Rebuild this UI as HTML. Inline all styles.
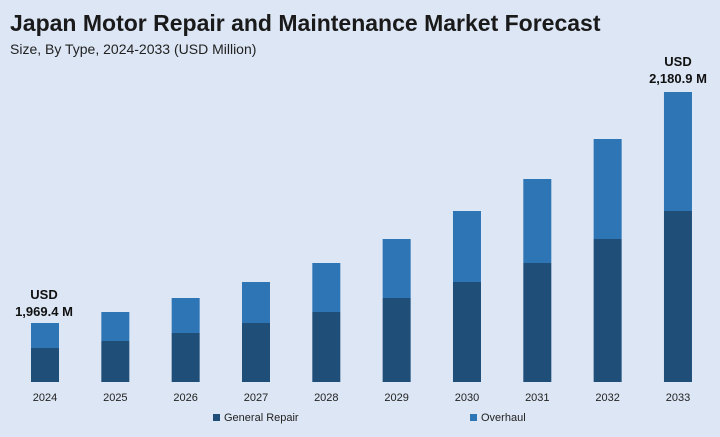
<!DOCTYPE html>
<html><head><meta charset="utf-8"><style>
body{margin:0;width:720px;height:432px;background:#dce6f4;font-family:"Liberation Sans",sans-serif;overflow:hidden}
</style></head><body>
<svg width="720" height="432">
<rect width="720" height="432" fill="#dce6f4"/>
<text x="10" y="31" font-size="23" font-weight="bold" fill="#1a1a1a">Japan Motor Repair and Maintenance Market Forecast</text>
<text x="10" y="54" font-size="14" fill="#222">Size, By Type, 2024-2033 (USD Million)</text>
<g id="bars"></g>
<g id="xlabels"></g>
<text x="44" y="299" font-size="13" font-weight="bold" text-anchor="middle" fill="#111">USD</text>
<text x="44" y="316" font-size="13" font-weight="bold" text-anchor="middle" fill="#111">1,969.4 M</text>
<text x="678" y="66" font-size="13" font-weight="bold" text-anchor="middle" fill="#111">USD</text>
<text x="678" y="83" font-size="13" font-weight="bold" text-anchor="middle" fill="#111">2,180.9 M</text>
<rect x="213" y="414" width="7" height="7" fill="#1f4e79"/>
<text x="224" y="421" font-size="11" fill="#222">General Repair</text>
<rect x="470" y="414" width="7" height="7" fill="#2e75b6"/>
<text x="481" y="421" font-size="11" fill="#222">Overhaul</text>
</svg>
<script>
const categories=["2024","2025","2026","2027","2028","2029","2030","2031","2032","2033"];
const generalRepair=[34,41,49,59,70,84,100,119,143,171];
const overhaul=[25,29,35,41,49,59,71,84,100,119];
const NS="http://www.w3.org/2000/svg";
const baseY=382, pxPerUnit=1.0, x0=31, step=70.33, bw=28;
function xPos(i){return x0+i*step;}
function yPos(v){return baseY-v*pxPerUnit;}
const g=document.getElementById('bars'), xl=document.getElementById('xlabels');
categories.forEach((c,i)=>{
  const x=xPos(i);
  const r1=document.createElementNS(NS,'rect');
  r1.setAttribute('x',x);r1.setAttribute('width',bw);
  r1.setAttribute('y',yPos(generalRepair[i]));r1.setAttribute('height',baseY-yPos(generalRepair[i]));
  r1.setAttribute('fill','#1f4e79');
  
  
  g.appendChild(r1);
  const tot=generalRepair[i]+overhaul[i];
  const r2=document.createElementNS(NS,'rect');
  r2.setAttribute('x',x);r2.setAttribute('width',bw);
  r2.setAttribute('y',yPos(tot));r2.setAttribute('height',yPos(generalRepair[i])-yPos(tot));
  r2.setAttribute('fill','#2e75b6');
  
  
  g.appendChild(r2);
  const t=document.createElementNS(NS,'text');
  t.setAttribute('x',x+bw/2);t.setAttribute('y',401);
  t.setAttribute('font-size','11');t.setAttribute('text-anchor','middle');t.setAttribute('fill','#222');
  t.textContent=c;
  
  
  xl.appendChild(t);
});
</script>
</body></html>
